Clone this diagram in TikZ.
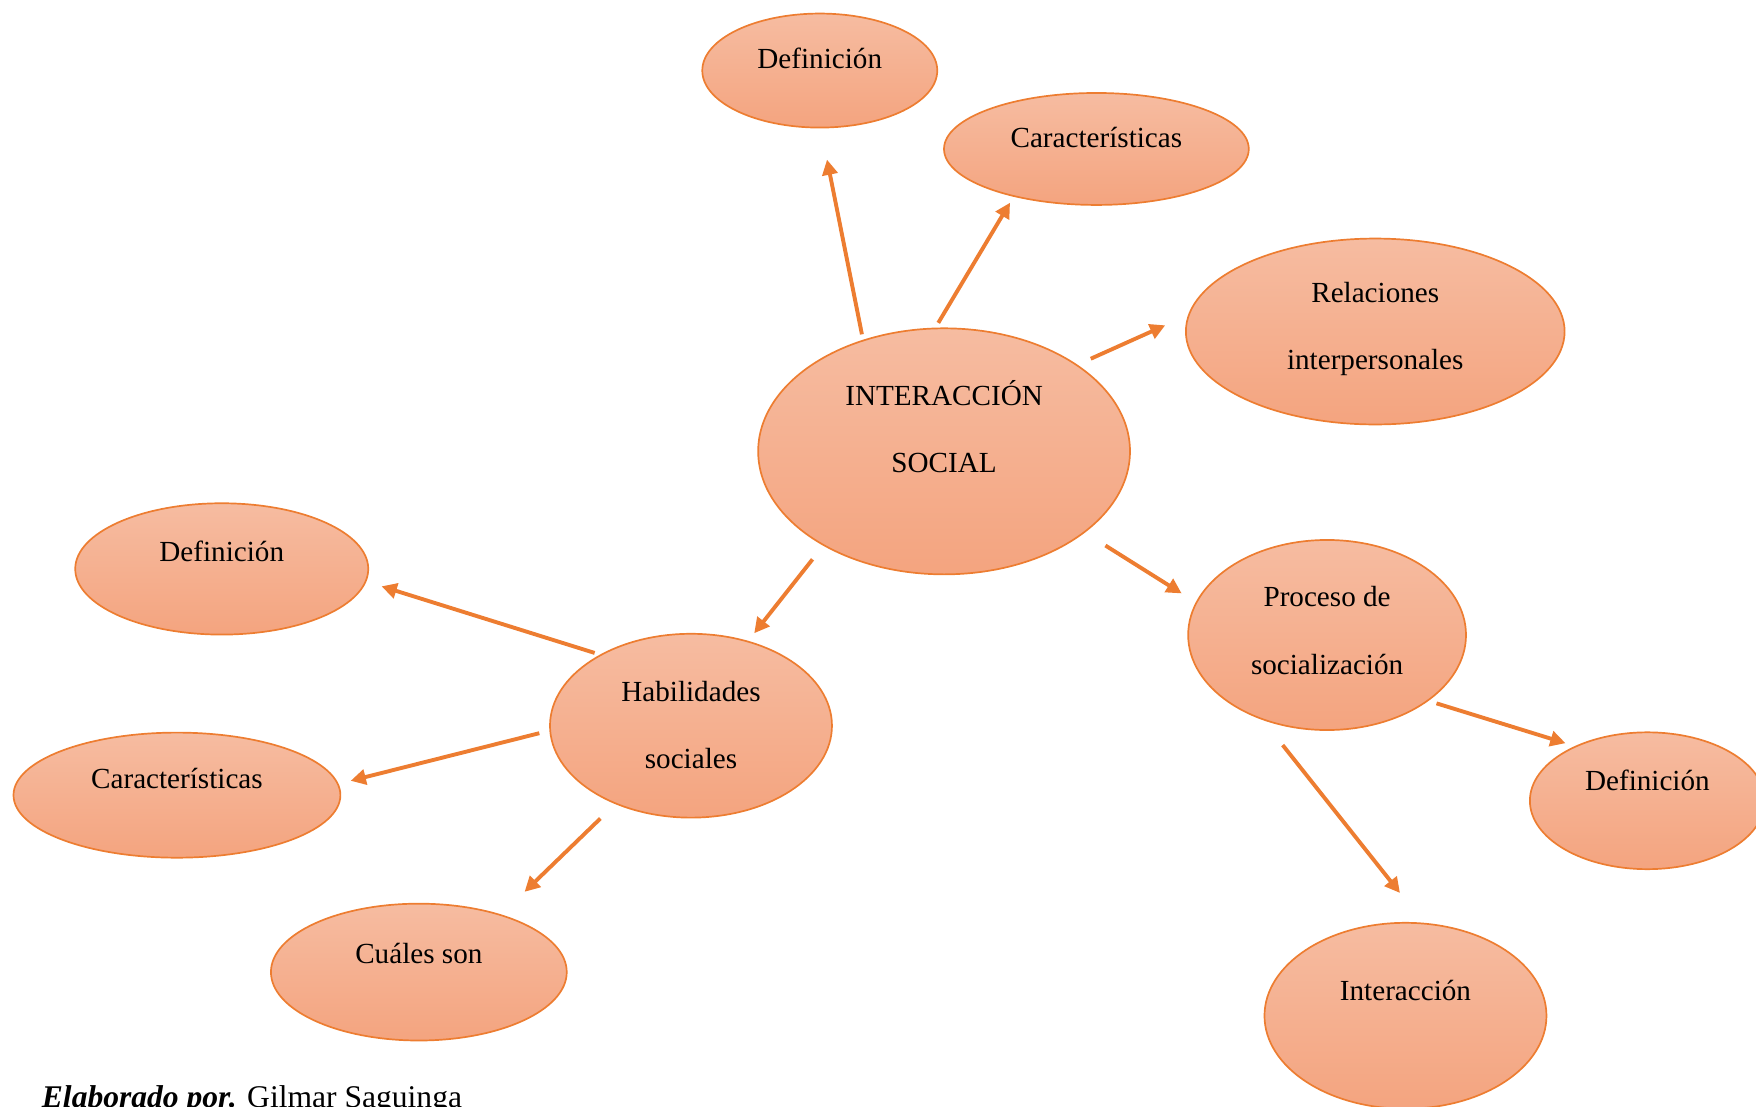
\documentclass[tikz,border=0pt]{standalone}
\usepackage{fontspec}
\setmainfont{Liberation Serif}
\usetikzlibrary{shapes.geometric, arrows.meta, positioning}
\definecolor{naranja}{HTML}{ED7D31}
\definecolor{salmonA}{HTML}{F6BCA1}
\definecolor{salmonB}{HTML}{F4A47F}

\begin{document}
\begin{tikzpicture}[x=0.0162cm, y=-0.0162cm,
    every node/.style={font=\fontsize{12}{27.6}\selectfont},
    burbuja/.style={ellipse, draw=naranja, line width=0.7pt, top color=salmonA, bottom color=salmonB, inner sep=0pt},
    txt/.style={align=center, inner sep=0pt},
    flecha/.style={draw=naranja, line width=1.6pt, -{Triangle[length=0.22cm, width=0.22cm]}}]

\useasboundingbox (0,0) rectangle (1568,988);

% Nodo central
\node[burbuja, minimum width=5.38cm, minimum height=3.56cm] (inter) at (843,403) {};
\node[txt] (intert) at (843,381) {INTERACCIÓN\\SOCIAL};

% Rama superior
\node[burbuja, minimum width=3.40cm, minimum height=1.65cm] (def1) at (732,63) {};
\node[txt] (def1t) at (732,52) {Definición};
\node[burbuja, minimum width=4.41cm, minimum height=1.62cm] (car1) at (979,133) {};
\node[txt] (car1t) at (979,123) {Características};
\node[burbuja, minimum width=5.48cm, minimum height=2.69cm] (rel) at (1228,296) {};
\node[txt] (relt) at (1228,294) {Relaciones\\interpersonales};

% Habilidades sociales
\node[burbuja, minimum width=4.08cm, minimum height=2.66cm] (hab) at (617,648) {};
\node[txt] (habt) at (617,647) {Habilidades\\sociales};
\node[burbuja, minimum width=4.24cm, minimum height=1.90cm] (defL) at (198,508) {};
\node[txt] (defLt) at (198,492) {Definición};
\node[burbuja, minimum width=4.73cm, minimum height=1.81cm] (carL) at (158,710) {};
\node[txt] (carLt) at (158,695) {Características};
\node[burbuja, minimum width=4.28cm, minimum height=1.98cm] (cual) at (374,868) {};
\node[txt] (cualt) at (374,851) {Cuáles son};

% Proceso de socializacion
\node[burbuja, minimum width=4.02cm, minimum height=2.75cm] (proc) at (1185,567) {};
\node[txt] (proct) at (1185,563) {Proceso de\\socialización};
\node[burbuja, minimum width=3.40cm, minimum height=1.98cm] (defR) at (1471,715) {};
\node[txt] (defRt) at (1471,697) {Definición};
\node[burbuja, minimum width=4.08cm, minimum height=2.69cm] (inter2) at (1255,907) {};
\node[txt] (inter2t) at (1255,884) {Interacción};

% Fuente
\node[anchor=base west, inner sep=0pt, font=\fontsize{13}{15}\selectfont] (autor) at (37,989) {\textbf{\textit{Elaborado por.}} Gilmar Saguinga};

% Flechas
\draw[flecha, shorten <=0.08cm, shorten >=0.46cm] (inter.126) -- (def1.-89);
\draw[flecha, shorten <=0.08cm, shorten >=0.10cm] (inter.94) -- (car1.210);
\draw[flecha, shorten <=0.21cm, shorten >=0.36cm] (inter.33) -- (rel.175);
\draw[flecha, shorten <=0.35cm, shorten >=0.24cm] (inter.-30) -- (proc.166);
\draw[flecha, shorten <=0.25cm, shorten >=0.14cm] (inter.218) -- (hab.56);
\draw[flecha, shorten <=0.08cm, shorten >=0.23cm] (hab.142) -- (defL.-5);
\draw[flecha, shorten <=0.15cm, shorten >=0.18cm] (hab.182) -- (carL.4);
\draw[flecha, shorten <=0.30cm, shorten >=0.47cm] (hab.226) -- (cual.35);
\draw[flecha, shorten <=0.12cm, shorten >=0.14cm] (proc.-33) -- (defR.143);
\draw[flecha, shorten <=0.46cm, shorten >=0.55cm] (proc.233) -- (inter2.79);

\end{tikzpicture}
\end{document}
